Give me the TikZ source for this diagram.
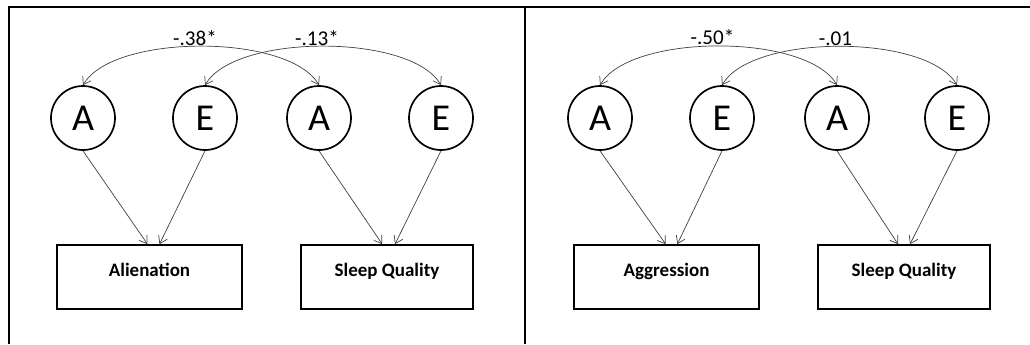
\documentclass[tikz,border=0pt]{standalone}
\usepackage{fontspec}
\setmainfont{Carlito}
\usetikzlibrary{arrows.meta}

\tikzset{
  latent/.style={circle, draw, line width=1.2pt, minimum size=1.6cm, inner sep=0pt,
    font=\fontsize{27}{32}\selectfont},
  observed/.style={rectangle, draw, line width=1.2pt, minimum height=1.6cm,
    font=\fontsize{13.5}{16}\selectfont\bfseries, text height=0.35cm, text depth=0.4cm},
  path/.style={draw=black!75, line width=0.5pt, -{Straight Barb[length=0.18cm, width=0.24cm]}},
  covar/.style={path, {Straight Barb[length=0.18cm, width=0.24cm]}-{Straight Barb[length=0.18cm, width=0.24cm]},
    out=60, in=120, looseness=0.65},
  coef/.style={midway, above, inner sep=0.5pt, xshift=-0.15cm, font=\fontsize{15}{18}\selectfont}
}

\begin{document}
\begin{tikzpicture}[x=0.025cm, y=-0.025cm]
    \useasboundingbox (0,0) rectangle (1030,344);

    % Frame
    \draw[line width=1.8pt] (9,344) |- (1030,7);
    \draw[line width=1.8pt] (525,7) -- (525,344);

    % Left panel: latent factors
    \node[latent] (A1) at (83,118) {A};
    \node[latent] (E1) at (205,118) {E};
    \node[latent] (A2) at (319,118) {A};
    \node[latent] (E2) at (441,118) {E};

    % Left panel: observed variables
    \node[observed, minimum width=4.625cm] (Ali) at (149.5,277) {Alienation};
    \node[observed, minimum width=4.3cm] (Slp1) at (387,277) {Sleep Quality};

    % Left panel: paths
    \draw[path] (A1.south) -- ([xshift=-0.05cm]Ali.north);
    \draw[path] (E1.south) -- ([xshift=0.25cm]Ali.north);
    \draw[path] (A2.south) -- ([xshift=-0.12cm]Slp1.north);
    \draw[path] (E2.south) -- ([xshift=0.2cm]Slp1.north);

    % Left panel: correlations
    \draw[covar] (A1.north) to node[coef] {-.38*} (A2.north);
    \draw[covar] (E1.north) to node[coef] {-.13*} (E2.north);

    % Right panel: latent factors
    \node[latent] (A3) at (600,118) {A};
    \node[latent] (E3) at (722,118) {E};
    \node[latent] (A4) at (837,118) {A};
    \node[latent] (E4) at (957,118) {E};

    % Right panel: observed variables
    \node[observed, minimum width=4.625cm] (Agg) at (666.5,277) {Aggression};
    \node[observed, minimum width=4.3cm] (Slp2) at (904,277) {Sleep Quality};

    % Right panel: paths
    \draw[path] (A3.south) -- ([xshift=-0.02cm]Agg.north);
    \draw[path] (E3.south) -- ([xshift=0.27cm]Agg.north);
    \draw[path] (A4.south) -- ([xshift=-0.15cm]Slp2.north);
    \draw[path] (E4.south) -- ([xshift=0.15cm]Slp2.north);

    % Right panel: correlations
    \draw[covar] (A3.north) to node[coef] {-.50*} (A4.north);
    \draw[covar] (E3.north) to node[coef, xshift=0.05cm] {-.01} (E4.north);

\end{tikzpicture}
\end{document}
